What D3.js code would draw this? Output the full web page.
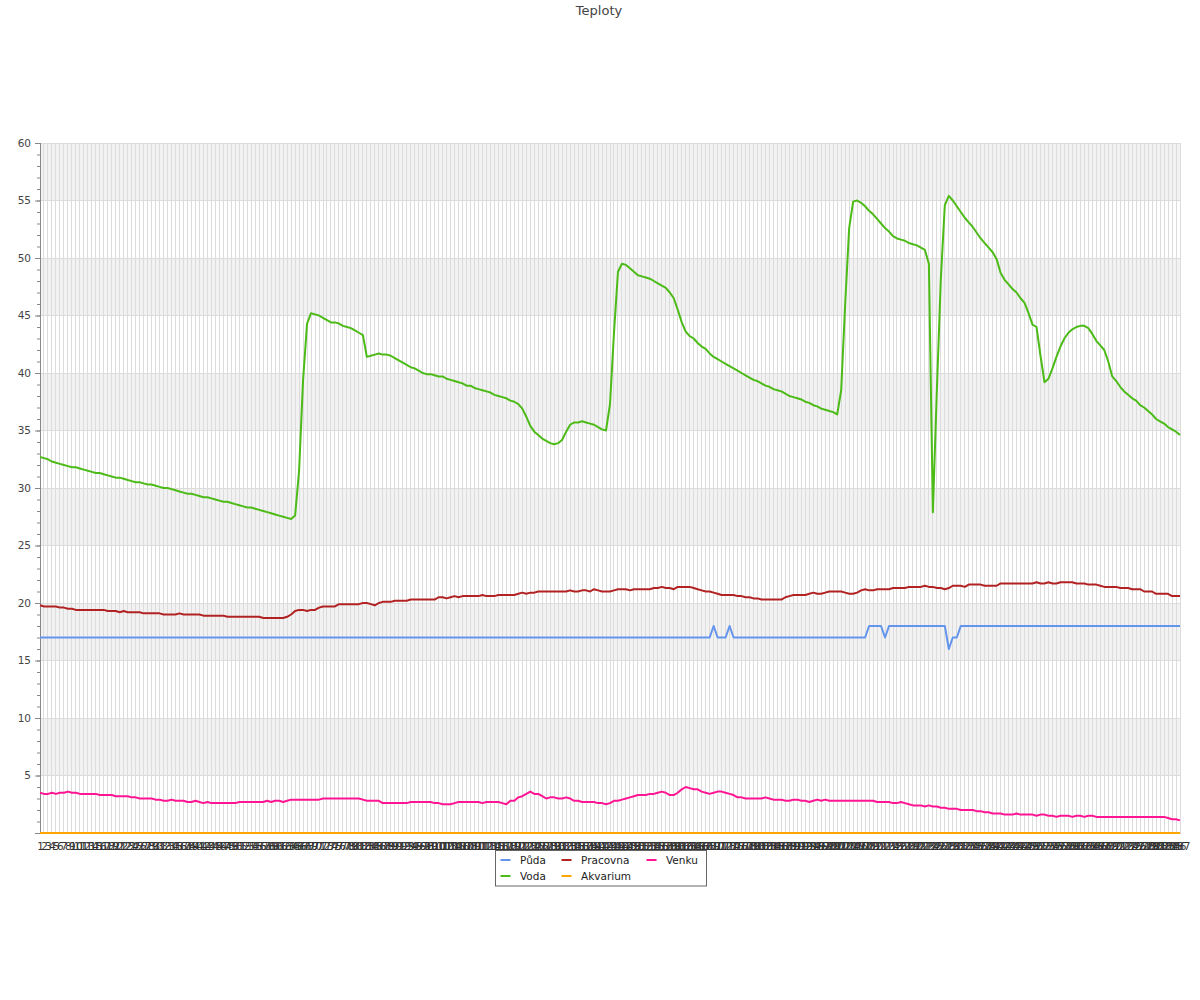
<!DOCTYPE html>
<html>
<head>
<meta charset="utf-8">
<script src="https://cdn.jsdelivr.net/npm/d3@7/dist/d3.min.js"></script>
<style>
  html, body { margin: 0; padding: 0; background: #fff; }
  svg text { font-family: "DejaVu Sans", sans-serif; }
</style>
</head>
<body>
<svg id="chart" width="1200" height="1000"></svg>
<script>
// ---------- DATA ----------
const title = "Teploty";
const categories = d3.range(1, 288).map(String);   // x labels 1..287
const seriesNames = ["Půda", "Voda", "Pracovna", "Akvarium", "Venku"];
const seriesColors = ["#6495ed", "#4cbb17", "#b22222", "#ffa500", "#ff1493"];
const yTickLabels = [5, 10, 15, 20, 25, 30, 35, 40, 45, 50, 55, 60];

const puda = [
17,17,17,17,17,17,17,17,17,17, 17,17,17,17,17,17,17,17,17,17,
17,17,17,17,17,17,17,17,17,17, 17,17,17,17,17,17,17,17,17,17,
17,17,17,17,17,17,17,17,17,17, 17,17,17,17,17,17,17,17,17,17,
17,17,17,17,17,17,17,17,17,17, 17,17,17,17,17,17,17,17,17,17,
17,17,17,17,17,17,17,17,17,17, 17,17,17,17,17,17,17,17,17,17,
17,17,17,17,17,17,17,17,17,17, 17,17,17,17,17,17,17,17,17,17,
17,17,17,17,17,17,17,17,17,17, 17,17,17,17,17,17,17,17,17,17,
17,17,17,17,17,17,17,17,17,17, 17,17,17,17,17,17,17,17,17,17,
17,17,17,17,17,17,17,17,17,18, 17,17,17,18,17,17,17,17,17,17,
17,17,17,17,17,17,17,17,17,17, 17,17,17,17,17,17,17,17,17,17,
17,17,17,17,17,17,17,17,18,18, 18,18,17,18,18,18,18,18,18,18,
18,18,18,18,18,18,18,18,16,17, 17,18,18,18,18,18,18,18,18,18,
18,18,18,18,18,18,18,18,18,18, 18,18,18,18,18,18,18,18,18,18,
18,18,18,18,18,18,18,18,18,18, 18,18,18,18,18,18,18,18,18,18,
18,18,18,18,18,18,18
];

const voda = [
32.7,32.6,32.5,32.3,32.2,32.1,32.0,31.9,31.8,31.8,
31.7,31.6,31.5,31.4,31.3,31.3,31.2,31.1,31.0,30.9,
30.9,30.8,30.7,30.6,30.5,30.5,30.4,30.3,30.3,30.2,
30.1,30.0,30.0,29.9,29.8,29.7,29.6,29.5,29.5,29.4,
29.3,29.2,29.2,29.1,29.0,28.9,28.8,28.8,28.7,28.6,
28.5,28.4,28.3,28.3,28.2,28.1,28.0,27.9,27.8,27.7,
27.6,27.5,27.4,27.3,27.6,31.5,39.4,44.3,45.2,45.1,
45.0,44.8,44.6,44.4,44.4,44.3,44.1,44.0,43.9,43.7,
43.5,43.3,41.4,41.5,41.6,41.7,41.6,41.6,41.5,41.3,
41.1,40.9,40.7,40.5,40.4,40.2,40.0,39.9,39.9,39.8,
39.7,39.7,39.5,39.4,39.3,39.2,39.1,38.9,38.9,38.7,
38.6,38.5,38.4,38.3,38.1,38.0,37.9,37.8,37.6,37.5,
37.3,36.9,36.2,35.4,34.9,34.6,34.3,34.1,33.9,33.8,
33.9,34.2,34.9,35.5,35.7,35.7,35.8,35.7,35.6,35.5,
35.3,35.1,35.0,37.3,43.5,48.8,49.5,49.4,49.1,48.8,
48.5,48.4,48.3,48.2,48.0,47.8,47.6,47.4,47.0,46.5,
45.5,44.4,43.6,43.2,43.0,42.6,42.3,42.1,41.7,41.4,
41.2,41.0,40.8,40.6,40.4,40.2,40.0,39.8,39.6,39.4,
39.3,39.1,38.9,38.8,38.6,38.5,38.4,38.2,38.0,37.9,
37.8,37.7,37.5,37.4,37.2,37.1,36.9,36.8,36.7,36.6,
36.4,38.5,46.0,52.6,54.9,55.0,54.8,54.5,54.1,53.8,
53.4,53.0,52.6,52.3,51.9,51.7,51.6,51.5,51.3,51.2,
51.1,50.9,50.7,49.5,27.9,38.5,48.2,54.6,55.4,55.0,
54.5,54.0,53.5,53.1,52.7,52.2,51.7,51.3,50.9,50.5,
49.9,48.7,48.1,47.7,47.3,47.0,46.5,46.1,45.2,44.2,
44.0,41.5,39.2,39.5,40.4,41.4,42.3,43.0,43.5,43.8,
44.0,44.1,44.1,43.9,43.4,42.8,42.4,42.0,41.0,39.7,
39.3,38.8,38.4,38.1,37.8,37.6,37.2,37.0,36.7,36.4,
36.0,35.8,35.6,35.3,35.1,34.9,34.6
];

const pracovna = [
19.8,19.7,19.7,19.7,19.7,19.6,19.6,19.5,19.5,19.4,
19.4,19.4,19.4,19.4,19.4,19.4,19.4,19.3,19.3,19.3,
19.2,19.3,19.2,19.2,19.2,19.2,19.1,19.1,19.1,19.1,
19.1,19.0,19.0,19.0,19.0,19.1,19.0,19.0,19.0,19.0,
19.0,18.9,18.9,18.9,18.9,18.9,18.9,18.8,18.8,18.8,
18.8,18.8,18.8,18.8,18.8,18.8,18.7,18.7,18.7,18.7,
18.7,18.7,18.8,19.0,19.3,19.4,19.4,19.3,19.4,19.4,
19.6,19.7,19.7,19.7,19.7,19.9,19.9,19.9,19.9,19.9,
19.9,20.0,20.0,19.9,19.8,20.0,20.1,20.1,20.1,20.2,
20.2,20.2,20.2,20.3,20.3,20.3,20.3,20.3,20.3,20.3,
20.5,20.5,20.4,20.5,20.6,20.5,20.6,20.6,20.6,20.6,
20.6,20.7,20.6,20.6,20.6,20.7,20.7,20.7,20.7,20.7,
20.8,20.9,20.8,20.9,20.9,21.0,21.0,21.0,21.0,21.0,
21.0,21.0,21.0,21.1,21.0,21.0,21.1,21.1,21.0,21.2,
21.1,21.0,21.0,21.0,21.1,21.2,21.2,21.2,21.1,21.2,
21.2,21.2,21.2,21.2,21.3,21.3,21.4,21.3,21.3,21.2,
21.4,21.4,21.4,21.4,21.3,21.2,21.1,21.0,21.0,20.9,
20.8,20.7,20.7,20.7,20.7,20.6,20.6,20.5,20.5,20.4,
20.4,20.3,20.3,20.3,20.3,20.3,20.3,20.5,20.6,20.7,
20.7,20.7,20.7,20.8,20.9,20.8,20.8,20.9,21.0,21.0,
21.0,21.0,20.9,20.8,20.8,20.9,21.1,21.2,21.1,21.1,
21.2,21.2,21.2,21.2,21.3,21.3,21.3,21.3,21.4,21.4,
21.4,21.4,21.5,21.4,21.4,21.3,21.3,21.2,21.3,21.5,
21.5,21.5,21.4,21.6,21.6,21.6,21.6,21.5,21.5,21.5,
21.5,21.7,21.7,21.7,21.7,21.7,21.7,21.7,21.7,21.7,
21.8,21.7,21.7,21.8,21.7,21.7,21.8,21.8,21.8,21.8,
21.7,21.7,21.7,21.6,21.6,21.6,21.5,21.4,21.4,21.4,
21.4,21.3,21.3,21.3,21.2,21.2,21.2,21.0,21.0,21.0,
20.8,20.8,20.8,20.8,20.6,20.6,20.6
];

const akvarium = [
0,0,0,0,0,0,0,0,0,0, 0,0,0,0,0,0,0,0,0,0,
0,0,0,0,0,0,0,0,0,0, 0,0,0,0,0,0,0,0,0,0,
0,0,0,0,0,0,0,0,0,0, 0,0,0,0,0,0,0,0,0,0,
0,0,0,0,0,0,0,0,0,0, 0,0,0,0,0,0,0,0,0,0,
0,0,0,0,0,0,0,0,0,0, 0,0,0,0,0,0,0,0,0,0,
0,0,0,0,0,0,0,0,0,0, 0,0,0,0,0,0,0,0,0,0,
0,0,0,0,0,0,0,0,0,0, 0,0,0,0,0,0,0,0,0,0,
0,0,0,0,0,0,0,0,0,0, 0,0,0,0,0,0,0,0,0,0,
0,0,0,0,0,0,0,0,0,0, 0,0,0,0,0,0,0,0,0,0,
0,0,0,0,0,0,0,0,0,0, 0,0,0,0,0,0,0,0,0,0,
0,0,0,0,0,0,0,0,0,0, 0,0,0,0,0,0,0,0,0,0,
0,0,0,0,0,0,0,0,0,0, 0,0,0,0,0,0,0,0,0,0,
0,0,0,0,0,0,0,0,0,0, 0,0,0,0,0,0,0,0,0,0,
0,0,0,0,0,0,0,0,0,0, 0,0,0,0,0,0,0,0,0,0,
0,0,0,0,0,0,0
];

const venku = [
3.5,3.4,3.4,3.5,3.4,3.5,3.5,3.6,3.5,3.5,
3.4,3.4,3.4,3.4,3.4,3.3,3.3,3.3,3.3,3.2,
3.2,3.2,3.2,3.1,3.1,3.0,3.0,3.0,3.0,2.9,
2.9,2.8,2.8,2.9,2.8,2.8,2.8,2.7,2.7,2.8,
2.7,2.6,2.7,2.6,2.6,2.6,2.6,2.6,2.6,2.6,
2.7,2.7,2.7,2.7,2.7,2.7,2.7,2.8,2.7,2.8,
2.8,2.7,2.8,2.9,2.9,2.9,2.9,2.9,2.9,2.9,
2.9,3.0,3.0,3.0,3.0,3.0,3.0,3.0,3.0,3.0,
3.0,2.9,2.8,2.8,2.8,2.8,2.6,2.6,2.6,2.6,
2.6,2.6,2.6,2.7,2.7,2.7,2.7,2.7,2.7,2.6,
2.6,2.5,2.5,2.5,2.6,2.7,2.7,2.7,2.7,2.7,
2.7,2.6,2.7,2.7,2.7,2.7,2.6,2.5,2.8,2.8,
3.1,3.2,3.4,3.6,3.4,3.4,3.2,3.0,3.1,3.1,
3.0,3.0,3.1,3.0,2.8,2.8,2.7,2.7,2.7,2.7,
2.6,2.6,2.5,2.6,2.8,2.8,2.9,3.0,3.1,3.2,
3.3,3.3,3.3,3.4,3.4,3.5,3.6,3.5,3.3,3.3,
3.5,3.8,4.0,3.9,3.8,3.8,3.6,3.5,3.4,3.5,
3.6,3.6,3.5,3.4,3.3,3.1,3.1,3.0,3.0,3.0,
3.0,3.0,3.1,3.0,2.9,2.9,2.9,2.8,2.8,2.9,
2.9,2.8,2.8,2.7,2.8,2.9,2.8,2.9,2.8,2.8,
2.8,2.8,2.8,2.8,2.8,2.8,2.8,2.8,2.8,2.8,
2.7,2.7,2.7,2.7,2.6,2.6,2.7,2.6,2.5,2.4,
2.4,2.4,2.3,2.4,2.3,2.3,2.2,2.2,2.1,2.1,
2.1,2.0,2.0,2.0,2.0,1.9,1.9,1.8,1.8,1.7,
1.7,1.7,1.6,1.6,1.6,1.7,1.6,1.6,1.6,1.6,
1.5,1.6,1.6,1.5,1.5,1.4,1.5,1.5,1.5,1.4,
1.5,1.5,1.4,1.5,1.5,1.4,1.4,1.4,1.4,1.4,
1.4,1.4,1.4,1.4,1.4,1.4,1.4,1.4,1.4,1.4,
1.4,1.4,1.4,1.3,1.2,1.2,1.1
];

const seriesValues = [puda, voda, pracovna, akvarium, venku];

// ---------- LAYOUT ----------
const svg = d3.select("#chart");
const plotL = 40, plotR = 1180, plotT = 143, plotB = 833;

const x = d3.scalePoint().domain(categories).range([plotL, plotR]);
const y = d3.scaleLinear().domain([0, 60]).range([plotB, plotT]);

// title
svg.append("text")
  .attr("x", 599).attr("y", 15)
  .attr("text-anchor", "middle")
  .attr("font-size", "13px")
  .attr("fill", "#444")
  .text(title);

// alternating bands
const bandStarts = [5, 15, 25, 35, 45, 55];
svg.append("g").selectAll("rect").data(bandStarts).join("rect")
  .attr("x", plotL).attr("width", plotR - plotL)
  .attr("y", d => y(d + 5)).attr("height", d => y(d) - y(d + 5))
  .attr("fill", "#f2f2f2");

// vertical grid
svg.append("g").selectAll("line").data(categories).join("line")
  .attr("x1", d => x(d)).attr("x2", d => x(d))
  .attr("y1", plotT).attr("y2", plotB)
  .attr("stroke", "#dcdcdc").attr("stroke-width", 1)
  .attr("shape-rendering", "crispEdges");

// horizontal grid
svg.append("g").selectAll("line").data(yTickLabels).join("line")
  .attr("x1", plotL).attr("x2", plotR)
  .attr("y1", d => y(d)).attr("y2", d => y(d))
  .attr("stroke", "#dcdcdc").attr("stroke-width", 1)
  .attr("shape-rendering", "crispEdges");

// y axis (minor ticks every 1, major every 5)
const yAxisMinor = d3.axisLeft(y).tickValues(d3.range(0, 61)).tickSize(3).tickFormat("");
const gMinor = svg.append("g").attr("transform", `translate(${plotL},0)`).call(yAxisMinor);
gMinor.select(".domain").remove();
gMinor.selectAll("line").attr("stroke", "#888");

const yAxisMajor = d3.axisLeft(y).tickValues([0].concat(yTickLabels)).tickSize(5).tickPadding(4)
  .tickFormat(d => d === 0 ? "" : d);
const gMajor = svg.append("g").attr("transform", `translate(${plotL},0)`).call(yAxisMajor);
gMajor.select(".domain").attr("stroke", "#888").attr("d", `M0.5,${plotT}V${plotB}`);
gMajor.selectAll("line").attr("stroke", "#888");
gMajor.selectAll("text").attr("font-size", "10.5px").attr("fill", "#444")
  .attr("font-family", "DejaVu Sans, sans-serif");

// x axis
const xAxis = d3.axisBottom(x).tickSize(0).tickPadding(10);
const gx = svg.append("g").attr("transform", `translate(0,${plotB})`).call(xAxis);
gx.select(".domain").attr("stroke", "#888");
gx.selectAll("text").attr("font-size", "10.5px").attr("fill", "#333")
  .attr("font-family", "DejaVu Sans, sans-serif");

// lines
const line = d3.line().x((d, i) => x(categories[i])).y(d => y(d));
svg.append("g").selectAll("path").data(seriesValues).join("path")
  .attr("d", d => line(d))
  .attr("fill", "none")
  .attr("stroke", (d, i) => seriesColors[i])
  .attr("stroke-width", 2)
  .attr("stroke-linejoin", "round");

// legend
const legend = svg.append("g");
legend.append("rect")
  .attr("x", 495.5).attr("y", 850.5).attr("width", 211).attr("height", 35.5)
  .attr("fill", "#fff").attr("stroke", "#666").attr("stroke-width", 1);
const colX = [500.5, 561.5, 646.5];
const rowY = [860, 876];
seriesNames.forEach((name, i) => {
  const c = Math.floor(i / 2), r = i % 2;
  const g = legend.append("g").attr("transform", `translate(${colX[c]},${rowY[r]})`);
  g.append("line").attr("x1", 0).attr("x2", 10).attr("y1", 0).attr("y2", 0)
    .attr("stroke", seriesColors[i]).attr("stroke-width", 2);
  g.append("text").attr("x", 19.5).attr("y", 0).attr("dy", "0.35em")
    .attr("font-size", "10.5px").attr("fill", "#222").text(name);
});
</script>
</body>
</html>
